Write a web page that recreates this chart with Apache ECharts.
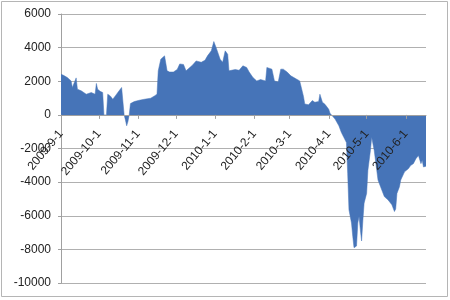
<!DOCTYPE html>
<html><head><meta charset="utf-8">
<script src="https://cdn.jsdelivr.net/npm/echarts@6/dist/echarts.min.js"></script>
<style>html,body{margin:0;padding:0;background:#fff}#c{width:450px;height:300px}</style>
</head><body><div id="c"></div>
<script>
const dates = ['2009-09-01','2009-09-03','2009-09-06','2009-09-09','2009-09-10','2009-09-13','2009-09-14','2009-09-17','2009-09-18','2009-09-21','2009-09-25','2009-09-28','2009-09-29','2009-09-30',
'2009-10-02','2009-10-04','2009-10-05','2009-10-07','2009-10-08','2009-10-10','2009-10-12','2009-10-14','2009-10-17','2009-10-19','2009-10-20','2009-10-21','2009-10-22','2009-10-23','2009-10-24','2009-10-25','2009-10-26','2009-10-29',
'2009-11-02','2009-11-06','2009-11-11','2009-11-14','2009-11-16','2009-11-17','2009-11-19','2009-11-22','2009-11-24','2009-11-26','2009-11-29','2009-11-30',
'2009-12-02','2009-12-04','2009-12-07','2009-12-09','2009-12-10','2009-12-14','2009-12-17','2009-12-21','2009-12-24','2009-12-26','2009-12-29','2009-12-31',
'2010-01-02','2010-01-05','2010-01-07','2010-01-09','2010-01-11','2010-01-12','2010-01-17','2010-01-20','2010-01-23','2010-01-26','2010-01-28','2010-01-31',
'2010-02-03','2010-02-06','2010-02-10','2010-02-11','2010-02-15','2010-02-17','2010-02-20','2010-02-22','2010-02-24','2010-02-27',
'2010-03-02','2010-03-06','2010-03-09','2010-03-12','2010-03-13','2010-03-16','2010-03-19','2010-03-21','2010-03-24','2010-03-25','2010-03-27','2010-03-29',
'2010-04-01','2010-04-02','2010-04-03','2010-04-06','2010-04-09','2010-04-11','2010-04-13','2010-04-15','2010-04-16','2010-04-17','2010-04-19','2010-04-20','2010-04-21','2010-04-23','2010-04-24','2010-04-25','2010-04-26','2010-04-27','2010-04-28','2010-04-29',
'2010-05-01','2010-05-02','2010-05-04','2010-05-05','2010-05-07','2010-05-09','2010-05-10','2010-05-13','2010-05-15','2010-05-18','2010-05-21','2010-05-23','2010-05-24','2010-05-25','2010-05-27','2010-05-28','2010-05-31',
'2010-06-03','2010-06-05','2010-06-07','2010-06-09','2010-06-11','2010-06-13','2010-06-14','2010-06-15','2010-06-17'];
const values = [2420,2350,2220,2020,1630,2200,1530,1430,1530,1230,1330,1230,1870,1530,
1400,1330,0,0,1230,1130,930,1130,1430,1630,1600,0,-300,-650,-400,0,670,790,
870,930,990,1130,1230,2620,3310,3510,2620,2550,2550,2620,
2700,3030,3000,2620,2720,2950,3210,3130,3250,3510,3810,4360,
3970,3310,3130,3810,3600,2620,2700,2650,2920,2820,2550,2220,
2020,2100,2020,2820,2720,2020,1950,2720,2720,2550,
2320,2150,2020,1100,650,600,850,750,800,1230,750,630,
330,100,0,-250,-650,-1050,-1350,-1650,-3500,-5650,-6430,-7220,-7900,-7800,-6430,-6040,-6820,-7500,-6300,-5250,
-4670,-3300,-2120,-1330,-2120,-3300,-3880,-4470,-4860,-5060,-5350,-5750,-5600,-4670,-4270,-3880,-3390,
-3200,-3000,-2900,-2610,-2410,-2900,-2700,-3100,-3050];
const xTickLabels = ['2009-9-1','2009-10-1','2009-11-1','2009-12-1','2010-1-1','2010-2-1','2010-3-1','2010-4-1','2010-5-1','2010-6-1'];
const xMin = '2009-09-01', xMax = '2010-06-17';
const yMin = -10000, yMax = 6000, yStep = 2000;

function parseD(s){const p=s.split('-').map(Number);return Date.UTC(p[0],p[1]-1,p[2]);}
const tickVals = xTickLabels.map(parseD);
const gridTop = 14, gridBottom = 17, H = 300;
const plotH = H - gridTop - gridBottom;
const zeroOffset = -plotH * (0 - yMin) / (yMax - yMin);
const chart = echarts.init(document.getElementById('c'), null, {renderer:'canvas'});
chart.setOption({
  animation:false,
  backgroundColor:'#fff',
  grid:{left:61,right:24,top:gridTop,bottom:gridBottom,containLabel:false},
  graphic:[{type:'rect',shape:{x:1.5,y:1.5,width:446,height:295},style:{fill:'none',stroke:'#b5b5b5',lineWidth:1},silent:true}],
  xAxis:{type:'value',min:parseD(xMin),max:parseD(xMax),position:'bottom',offset:zeroOffset,z:5,
    axisLine:{onZero:false,lineStyle:{color:'#a0a0a0'}},
    axisTick:{show:true,length:4,lineStyle:{color:'#a0a0a0'},customValues:tickVals},
    axisLabel:{rotate:50,margin:17,fontSize:12,fontFamily:'Liberation Sans',color:'#222',
      customValues:tickVals,hideOverlap:false,
      formatter:function(v){let best=0;for(let i=0;i<tickVals.length;i++){if(Math.abs(tickVals[i]-v)<Math.abs(tickVals[best]-v))best=i;}return xTickLabels[best];}},
    splitLine:{show:false}},
  yAxis:{type:'value',min:yMin,max:yMax,interval:yStep,
    axisLine:{show:true,onZero:false,lineStyle:{color:'#a0a0a0'}},
    axisTick:{show:true,length:3,lineStyle:{color:'#a0a0a0'}},
    axisLabel:{fontSize:12,fontFamily:'Liberation Sans',color:'#222',margin:10,formatter:function(v){return String(v);}},
    splitLine:{lineStyle:{color:'#b0b0b0',width:1}}},
  series:[{type:'line',data:dates.map((d,i)=>[parseD(d),values[i]]),symbol:'none',z:1,
    lineStyle:{width:0.5,color:'#4674b8'},areaStyle:{color:'#4674b8',opacity:1}}]
});
</script></body></html>
